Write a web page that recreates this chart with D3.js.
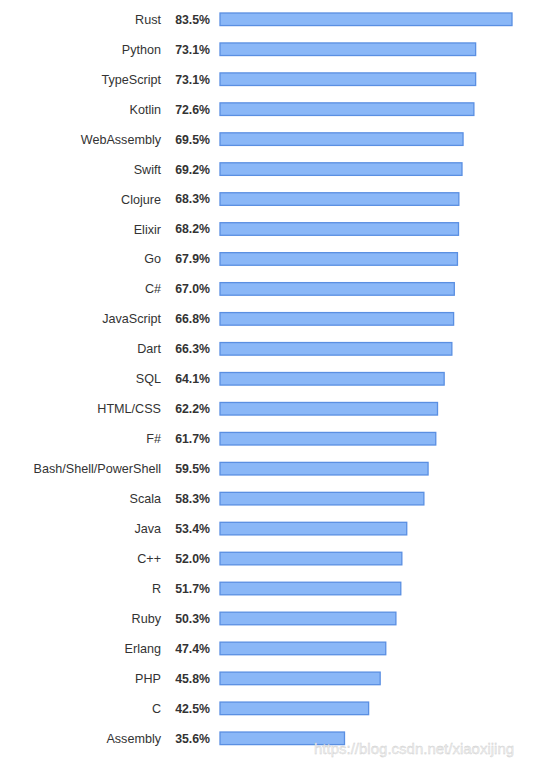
<!DOCTYPE html>
<html>
<head>
<meta charset="utf-8">
<script src="https://cdn.jsdelivr.net/npm/d3@7"></script>
<style>
  body { margin: 0; background: #fff; }
  text { font-family: "Liberation Sans", Arial, sans-serif; }
</style>
</head>
<body>
<svg id="chart"></svg>
<script>
var languages = ["Rust", "Python", "TypeScript", "Kotlin", "WebAssembly", "Swift", "Clojure", "Elixir", "Go", "C#",
  "JavaScript", "Dart", "SQL", "HTML/CSS", "F#", "Bash/Shell/PowerShell", "Scala", "Java", "C++", "R",
  "Ruby", "Erlang", "PHP", "C", "Assembly"];
var loved = [83.5, 73.1, 73.1, 72.6, 69.5, 69.2, 68.3, 68.2, 67.9, 67.0,
  66.8, 66.3, 64.1, 62.2, 61.7, 59.5, 58.3, 53.4, 52.0, 51.7,
  50.3, 47.4, 45.8, 42.5, 35.6];

var w = 554, h = 762;
var svg = d3.select("#chart").attr("width", w).attr("height", h);

// bars start at x=220, Rust ends near 512
var xScale = d3.scaleLinear().domain([0, 83.5]).range([220, 512]);
var yScale = d3.scaleBand().domain(languages).range([4.3, 753.3]).paddingInner(0.58).paddingOuter(0.29);

var rows = svg.selectAll("g.row")
  .data(languages)
  .enter()
  .append("g")
  .attr("class", "row");

rows.append("rect")
  .attr("x", xScale(0))
  .attr("y", function(d) { return yScale(d); })
  .attr("width", function(d, i) { return xScale(loved[i]) - xScale(0); })
  .attr("height", yScale.bandwidth())
  .attr("fill", "#8ab7f7")
  .attr("stroke", "#5a8fe2")
  .attr("stroke-width", 1.3);

rows.append("text")
  .attr("x", 161)
  .attr("y", function(d) { return yScale(d) + yScale.bandwidth() / 2; })
  .attr("dy", "0.36em")
  .attr("text-anchor", "end")
  .attr("font-size", 12.6)
  .attr("fill", "#333")
  .text(function(d) { return d; });

rows.append("text")
  .attr("x", 210)
  .attr("y", function(d) { return yScale(d) + yScale.bandwidth() / 2; })
  .attr("dy", "0.36em")
  .attr("text-anchor", "end")
  .attr("font-size", 12.3)
  .attr("font-weight", "bold")
  .attr("fill", "#333")
  .text(function(d, i) { return loved[i].toFixed(1) + "%"; });

// watermark
svg.append("text")
  .attr("x", 314)
  .attr("y", 754)
  .attr("font-size", 15)
  .attr("fill", "#f0f0f0")
  .attr("stroke", "#cccccc")
  .attr("stroke-width", 0.35)
  .text("https://blog.csdn.net/xiaoxijing");
</script>
</body>
</html>
